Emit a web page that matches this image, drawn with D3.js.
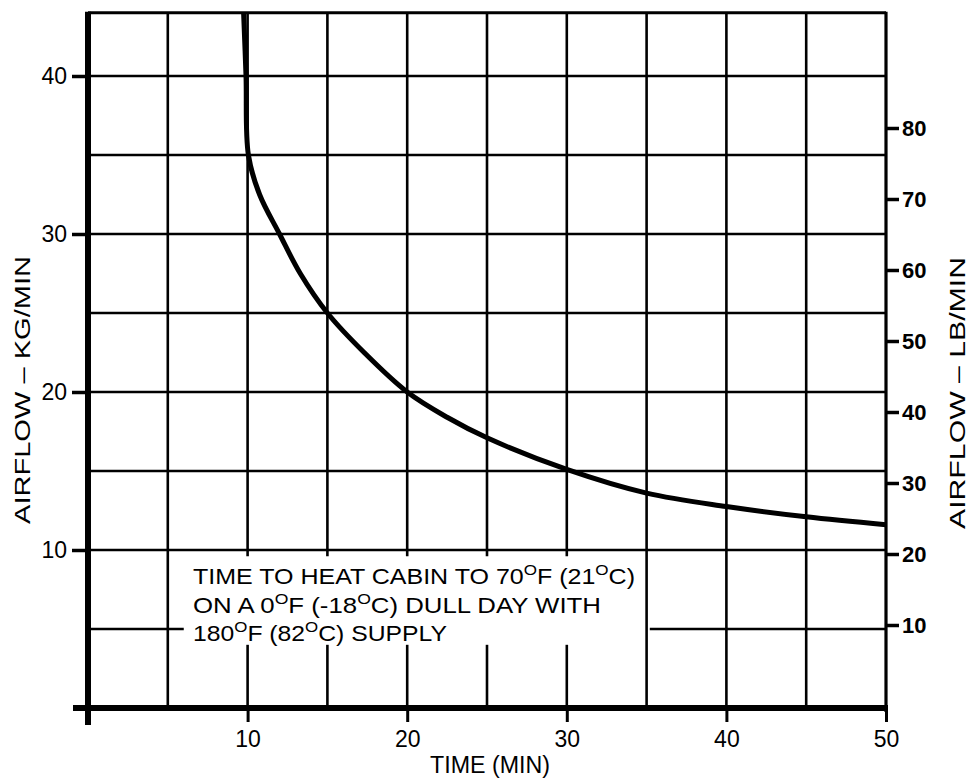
<!DOCTYPE html>
<html>
<head>
<meta charset="utf-8">
<script src="https://cdn.jsdelivr.net/npm/d3@7/dist/d3.min.js"></script>
<style>
  html, body { margin: 0; padding: 0; background: #fff; }
  svg { display: block; }
  text { font-family: "Liberation Sans", Arial, Helvetica, sans-serif; fill: #000; }
</style>
</head>
<body>
<svg id="chart" width="974" height="780"></svg>
<script>
// ---- data ----
const timeMin   = [9.75, 9.9, 10.05, 10.75, 12.0, 13.3, 15, 17.3, 20, 22.5, 25, 30, 35, 40, 45, 50];
const airflowKg = [44, 40, 35, 32.5, 30, 27.5, 25, 22.5, 20, 18.4, 17.1, 15.1, 13.6, 12.75, 12.1, 11.6];
const xTicks  = [10, 20, 30, 40, 50];
const kgTicks = [10, 20, 30, 40];
const lbTicks = [10, 20, 30, 40, 50, 60, 70, 80];
const xGrid   = [5, 10, 15, 20, 25, 30, 35, 40, 45];
const kgGrid  = [5, 10, 15, 20, 25, 30, 35, 40];
const noteLines = [
  [["TIME TO HEAT CABIN TO 70", false], ["O", true], ["F (21", false], ["O", true], ["C)", false]],
  [["ON A 0", false], ["O", true], ["F (-18", false], ["O", true], ["C) DULL DAY WITH", false]],
  [["180", false], ["O", true], ["F (82", false], ["O", true], ["C) SUPPLY", false]]
];

const svg = d3.select("#chart");
const x  = d3.scaleLinear().domain([0, 50]).range([88, 886]);
const y  = d3.scaleLinear().domain([0, 40]).range([708, 76]);
const yLb = d3.scaleLinear().domain([0, 80]).range([696, 128]);
const yTop = 44;

const g = svg.append("g");

// grid: vertical lines (with gap for note)
xGrid.forEach(t => {
  const segs = (t >= 10 && t <= 30) ? [[0, 4.0], [9.6, yTop]] : [[0, yTop]];
  segs.forEach(s => {
    g.append("line")
      .attr("x1", x(t)).attr("x2", x(t))
      .attr("y1", y(s[0])).attr("y2", y(s[1]))
      .attr("stroke", "#000").attr("stroke-width", 2.6);
  });
});
// grid: horizontal lines
kgGrid.forEach(v => {
  const segs = v === 5 ? [[0, 6.0], [35.2, 50]] : [[0, 50]];
  segs.forEach(s => {
    g.append("line")
      .attr("x1", x(s[0])).attr("x2", x(s[1]))
      .attr("y1", y(v)).attr("y2", y(v))
      .attr("stroke", "#000").attr("stroke-width", 2.6);
  });
});
// top border
g.append("line").attr("x1", x(0)).attr("x2", x(50)).attr("y1", y(yTop)).attr("y2", y(yTop))
  .attr("stroke", "#000").attr("stroke-width", 3);
// right axis line
g.append("line").attr("x1", x(50)).attr("x2", x(50)).attr("y1", y(yTop) - 1).attr("y2", y(0) + 4)
  .attr("stroke", "#000").attr("stroke-width", 3.2);

// curve
const line = d3.line().x((d, i) => x(timeMin[i])).y(d => y(d)).curve(d3.curveCatmullRom.alpha(0.5));
g.append("path").datum(airflowKg).attr("d", line)
  .attr("fill", "none").attr("stroke", "#000").attr("stroke-width", 5);

// left axis (thick)
g.append("line").attr("x1", x(0)).attr("x2", x(0)).attr("y1", y(yTop) - 1).attr("y2", y(0) + 17)
  .attr("stroke", "#000").attr("stroke-width", 6);
// bottom axis (thick)
g.append("line").attr("x1", x(0) - 15).attr("x2", x(50) + 2).attr("y1", y(0)).attr("y2", y(0))
  .attr("stroke", "#000").attr("stroke-width", 6);

// bottom axis ticks & labels
const xAxis = d3.axisBottom(x).tickValues(xTicks).tickSize(14).tickPadding(9).tickFormat(d3.format("d"));
const gx = svg.append("g").attr("transform", `translate(0,${y(0)})`).call(xAxis);
gx.select(".domain").remove();
gx.selectAll(".tick line").attr("stroke", "#000").attr("stroke-width", 3);
gx.selectAll(".tick text").attr("font-size", 23).attr("font-family", "Liberation Sans, Arial, sans-serif");

// left axis ticks & labels
const yAxisL = d3.axisLeft(y).tickValues(kgTicks).tickSize(16).tickPadding(5).tickFormat(d3.format("d"));
const gyl = svg.append("g").attr("transform", `translate(${x(0)},0)`).call(yAxisL);
gyl.select(".domain").remove();
gyl.selectAll(".tick line").attr("stroke", "#000").attr("stroke-width", 3.5);
gyl.selectAll(".tick text").attr("font-size", 23).attr("font-family", "Liberation Sans, Arial, sans-serif");

// right axis ticks & labels (lb/min)
const yAxisR = d3.axisRight(yLb).tickValues(lbTicks).tickSize(13).tickPadding(3).tickFormat(d3.format("d"));
const gyr = svg.append("g").attr("transform", `translate(${x(50)},0)`).call(yAxisR);
gyr.select(".domain").remove();
gyr.selectAll(".tick line").attr("stroke", "#000").attr("stroke-width", 3.5);
gyr.selectAll(".tick text").attr("font-size", 22).attr("font-weight", "bold")
  .attr("font-family", "DejaVu Sans, sans-serif");

// axis titles
svg.append("text").attr("x", 490).attr("y", 773).attr("text-anchor", "middle")
  .attr("font-size", 23).attr("textLength", 120).attr("lengthAdjust", "spacingAndGlyphs")
  .text("TIME (MIN)");
svg.append("text").attr("transform", "translate(30,390) rotate(-90)").attr("text-anchor", "middle")
  .attr("font-size", 22).attr("textLength", 268).attr("lengthAdjust", "spacingAndGlyphs")
  .text("AIRFLOW – KG/MIN");
svg.append("text").attr("transform", "translate(965,393) rotate(-90)").attr("text-anchor", "middle")
  .attr("font-size", 22).attr("textLength", 272).attr("lengthAdjust", "spacingAndGlyphs")
  .text("AIRFLOW – LB/MIN");

// annotation
const baselines = [584, 613, 641];
const lineWidths = [442, 408, 254];
noteLines.forEach((parts, i) => {
  const t = svg.append("text").attr("x", 193).attr("y", baselines[i]).attr("font-size", 22)
    .attr("textLength", lineWidths[i]).attr("lengthAdjust", "spacingAndGlyphs");
  parts.forEach((p, j) => {
    const prevSup = j > 0 && parts[j - 1][1];
    const ts = t.append("tspan").text(p[0]);
    if (p[1]) ts.attr("font-size", 15).attr("dy", -9);
    else if (prevSup) ts.attr("dy", 9);
  });
});
</script>
</body>
</html>
